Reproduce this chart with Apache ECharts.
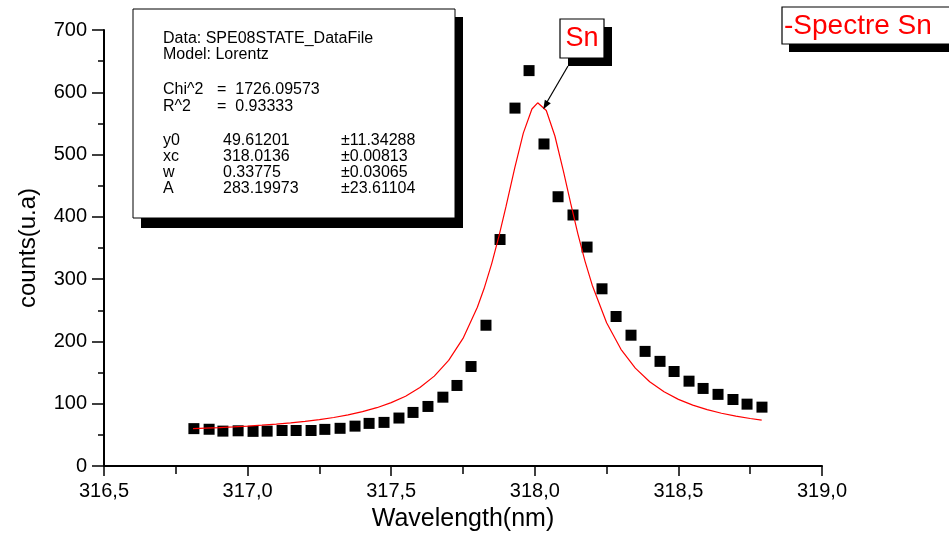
<!DOCTYPE html>
<html>
<head>
<meta charset="utf-8">
<script src="https://cdn.jsdelivr.net/npm/echarts@6/dist/echarts.min.js"></script>
<style>
  html, body { margin: 0; padding: 0; background: #fff; }
  #chart { width: 949px; height: 537px; }
</style>
</head>
<body>
<div id="chart"></div>
<script>
// Measured spectrum (wavelength in nm, counts)
const wavelengths = [316.813, 316.866, 316.914, 316.967, 317.019, 317.068, 317.120, 317.169, 317.221, 317.269,
                     317.322, 317.374, 317.423, 317.475, 317.527, 317.576, 317.628, 317.680, 317.729, 317.778,
                     317.830, 317.879, 317.931, 317.980, 318.032, 318.081, 318.133, 318.182, 318.234, 318.283,
                     318.335, 318.384, 318.436, 318.485, 318.537, 318.586, 318.638, 318.690, 318.739, 318.791];
const counts = [60, 59, 56, 56.5, 55.6, 56, 57, 57, 57, 58.8,
                60.5, 64, 68.4, 70, 77, 86, 95.6, 110.5, 129.3, 159.7,
                226, 363.6, 574.6, 634.8, 517, 432.3, 403, 351.5, 284.5, 240,
                210, 184, 168, 151.7, 136.2, 124.5, 115, 106.8, 99.3, 94.5];

// Lorentz fit curve
const fitX = [316.81, 316.9, 316.95, 317.0, 317.05, 317.1, 317.15, 317.2, 317.25, 317.3, 317.35, 317.4, 317.45,
              317.5, 317.55, 317.6, 317.65, 317.7, 317.75, 317.8, 317.825, 317.85, 317.875, 317.9, 317.93, 317.96,
              317.99, 318.01, 318.04, 318.07, 318.1, 318.125, 318.15, 318.175, 318.2, 318.25, 318.3, 318.35,
              318.4, 318.45, 318.5, 318.55, 318.6, 318.65, 318.7, 318.75, 318.79];
const fitY = [59.9, 61.6, 62.7, 64.0, 65.5, 67.2, 69.3, 71.7, 74.5, 77.9, 82.1, 87.2, 93.6,
              101.7, 112.1, 125.9, 144.3, 169.6, 204.9, 254.9, 287.1, 325.0, 368.6, 417.1, 478.3, 534.5,
              573.2, 583.1, 570.7, 529.8, 472.6, 421.5, 372.7, 328.6, 290.3, 230.0, 187.3, 157.1,
              135.2, 119.1, 107.0, 97.8, 90.5, 84.7, 80.1, 76.3, 73.7];

// Axis settings
const xMin = 316.5, xMax = 319.0, xStep = 0.5;
const yMin = 0, yMax = 700, yStep = 100;

// Fit report lines
const fitHeader = ['Data: SPE08STATE_DataFile', 'Model: Lorentz'];
const fitStats = [['Chi^2', '=  1726.09573'], ['R^2', '=  0.93333']];
const fitParams = [['y0', '49.61201', '\u00b111.34288'],
                   ['xc', '318.0136', '\u00b10.00813'],
                   ['w', '0.33775', '\u00b10.03065'],
                   ['A', '283.19973', '\u00b123.61104']];

const FONT = "'Liberation Sans', Arial, sans-serif";

const chart = echarts.init(document.getElementById('chart'), null, { renderer: 'canvas' });

const graphics = [];
// fit report box
graphics.push({ type: 'rect', shape: { x: 141, y: 17, width: 322, height: 211 }, style: { fill: '#000' }, z: 10 });
graphics.push({ type: 'rect', shape: { x: 133, y: 9, width: 322, height: 209 }, style: { fill: '#fff', stroke: '#000', lineWidth: 1 }, z: 11 });
const txt = (t, x, y, extra) => Object.assign({
  type: 'text', x: x, y: y, z: 12,
  style: { text: t, fill: '#000', font: '16px ' + FONT, textVerticalAlign: 'middle', textAlign: 'left' }
}, extra || {});
fitHeader.forEach((t, i) => graphics.push(txt(t, 163, 39 + i * 16)));
fitStats.forEach((r, i) => {
  graphics.push(txt(r[0], 163, 90 + i * 16.5));
  graphics.push(txt(r[1], 217, 90 + i * 16.5));
});
fitParams.forEach((r, i) => {
  const y = 140.5 + i * 16;
  graphics.push(txt(r[0], 163, y));
  graphics.push(txt(r[1], 223, y));
  graphics.push(txt(r[2], 341, y));
});
// "Sn" label box with arrow
graphics.push({ type: 'rect', shape: { x: 568, y: 27, width: 44, height: 39 }, style: { fill: '#000' }, z: 10 });
graphics.push({ type: 'rect', shape: { x: 560, y: 19, width: 44, height: 39 }, style: { fill: '#fff', stroke: '#000', lineWidth: 1.2 }, z: 11 });
graphics.push({ type: 'text', x: 582, y: 39, z: 12,
  style: { text: 'Sn', fill: '#ff0000', font: '27px ' + FONT, textAlign: 'center', textVerticalAlign: 'middle' } });
graphics.push({ type: 'line', shape: { x1: 568, y1: 66, x2: 547, y2: 102 }, style: { stroke: '#000', lineWidth: 1.2 }, z: 12 });
graphics.push({ type: 'polygon', shape: { points: [[543.3, 109.3], [550.8, 103.2], [544.8, 99.8]] }, style: { fill: '#000' }, z: 12 });
// "-Spectre Sn" legend box
graphics.push({ type: 'rect', shape: { x: 789, y: 15, width: 170, height: 37 }, style: { fill: '#000' }, z: 10 });
graphics.push({ type: 'rect', shape: { x: 782, y: 7, width: 180, height: 37 }, style: { fill: '#fff', stroke: '#000', lineWidth: 1.2 }, z: 11 });
graphics.push({ type: 'text', x: 784, y: 26, z: 12,
  style: { text: '-Spectre Sn', fill: '#ff0000', font: '28px ' + FONT, textAlign: 'left', textVerticalAlign: 'middle' } });

const option = {
  backgroundColor: '#fff',
  animation: false,
  grid: { left: 104, right: 127, top: 30, bottom: 70, containLabel: false },
  xAxis: {
    type: 'value', min: xMin, max: xMax, interval: xStep,
    name: 'Wavelength(nm)', nameLocation: 'middle', nameGap: 41,
    nameTextStyle: { fontFamily: FONT, fontSize: 25, color: '#000' },
    axisLine: { show: true, onZero: false, lineStyle: { color: '#000', width: 2 } },
    axisTick: { show: true, inside: false, length: 10, lineStyle: { color: '#000', width: 1.5 } },
    minorTick: { show: true, splitNumber: 2, length: 8, lineStyle: { color: '#000', width: 1.5 } },
    splitLine: { show: false },
    axisLabel: { margin: 15, fontFamily: FONT, fontSize: 20, color: '#000',
      formatter: v => v.toFixed(1).replace('.', ',') }
  },
  yAxis: {
    type: 'value', min: yMin, max: yMax, interval: yStep,
    name: 'counts(u.a)', nameLocation: 'middle', nameGap: 64, nameRotate: 90,
    nameTextStyle: { fontFamily: FONT, fontSize: 24, color: '#000' },
    axisLine: { show: true, onZero: false, lineStyle: { color: '#000', width: 2 } },
    axisTick: { show: true, inside: false, length: 12, lineStyle: { color: '#000', width: 1.5 } },
    minorTick: { show: true, splitNumber: 2, length: 6, lineStyle: { color: '#000', width: 1.5 } },
    splitLine: { show: false },
    axisLabel: { margin: 17, fontFamily: FONT, fontSize: 20, color: '#000' }
  },
  series: [
    {
      type: 'scatter', name: 'data',
      data: wavelengths.map((x, i) => [x, counts[i]]),
      symbol: 'rect', symbolSize: 11,
      itemStyle: { color: '#000', opacity: 1 }, z: 3
    },
    {
      type: 'line', name: 'Spectre Sn',
      data: fitX.map((x, i) => [x, fitY[i]]),
      showSymbol: false, symbol: 'none', smooth: false,
      lineStyle: { color: '#ff0000', width: 1.2 }, z: 4
    }
  ],
  graphic: graphics
};
chart.setOption(option);
</script>
</body>
</html>
